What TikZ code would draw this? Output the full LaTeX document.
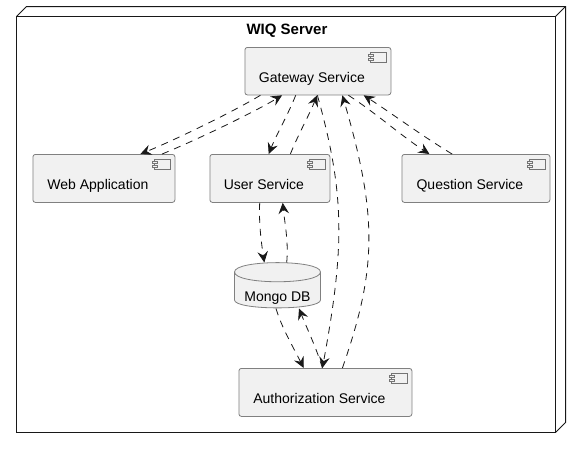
\documentclass[tikz,border=0pt]{standalone}
\usepackage{fontspec}
\setmainfont{Liberation Sans}
\usetikzlibrary{arrows.meta,calc}
\definecolor{boxfill}{HTML}{F1F1F1}
\definecolor{ink}{HTML}{181818}
\tikzset{
  x=1pt,y=-1pt,
  comp/.style={draw=ink!55!white,fill=boxfill,rounded corners=2.5pt,line width=0.8pt,inner sep=0pt},
  lab/.style={font=\fontsize{14}{16}\selectfont,text=black,inner sep=0pt,anchor=base},
  link/.style={draw=ink,line width=0.8pt,dash pattern=on 7pt off 6pt,-{Stealth[length=11pt,width=10.5pt,inset=4pt]}},
  wall/.style={draw=ink,line width=1pt},
  icon/.style={draw=ink!60!white,line width=0.7pt,fill=boxfill},
}
\newcommand{\compnode}[6]{% name,x1,y1,x2,y2,label
  \node[comp,minimum width=#4pt-#2pt,minimum height=#5pt-#3pt,anchor=north west] (#1) at (#2,#3) {};
  \node[lab] (#1text) at ($(#1.south)+(-6,-13)$) {#6};
  \draw[icon] ($(#1.north east)+(-21,5)$) rectangle ($(#1.north east)+(-4.5,15.5)$);
  \draw[icon] ($(#1.north east)+(-23,7.5)$) rectangle ($(#1.north east)+(-18,9.5)$);
  \draw[icon] ($(#1.north east)+(-23,11)$) rectangle ($(#1.north east)+(-18,13)$);
}
\begin{document}
\begin{tikzpicture}
\useasboundingbox (0,0) rectangle (581,448);
\fill[white] (0,0) rectangle (581,448);
% server box
\coordinate (srvA) at (16.5,16.5);
\coordinate (srvB) at (555.5,432.5);
\draw[wall] (srvA) rectangle (srvB);
\draw[wall] (srvA) -- (26.5,6.5) -- (565.5,6.5) -- (565.5,422.5) -- (srvB);
\draw[wall] (555.5,16.5) -- (565.5,6.5);
\node[lab,font=\fontsize{15}{17}\selectfont\bfseries] (title) at (287,34) {WIQ Server};
\compnode{gw}{244.5}{47}{390.5}{94.5}{Gateway Service}
\compnode{web}{32.5}{154}{174.5}{202}{Web Application}
\compnode{user}{209.5}{154}{329.5}{202}{User Service}
\compnode{q}{401.5}{154}{549.5}{202}{Question Service}
\compnode{auth}{238.5}{368}{411.5}{416}{Authorization Service}
% database
\path[draw=ink!55!white,fill=boxfill,line width=0.8pt]
  (234.5,272) .. controls (234.5,259.5) and (320.5,259.5) .. (320.5,272)
  -- (320.5,300) .. controls (320.5,310.5) and (234.5,310.5) .. (234.5,300) -- cycle;
\draw[draw=ink!55!white,line width=0.8pt] (234.5,272) .. controls (234.5,285) and (320.5,285) .. (320.5,272);
\node[lab] (db) at (277.5,301) {Mongo DB};
\coordinate (dbT) at (277.5,262.5);
\coordinate (dbB) at (277.5,308.5);
% connectors
\draw[link] ([xshift=-57.5pt]gw.south) .. controls +(-30,18) and +(32,-13) .. ([xshift=36.5pt]web.north);
\draw[link] ([xshift=58.2pt]web.north) .. controls +(32,-13) and +(-30,18) .. ([xshift=-35.8pt]gw.south);
\draw[link] ([xshift=-22.2pt]gw.south) .. controls +(-8,20) and +(8,-20) .. ([xshift=-1.2pt]user.north);
\draw[link] ([xshift=20.5pt]user.north) .. controls +(8,-20) and +(-8,20) .. ([xshift=-0.8pt]gw.south);
\draw[link] ([xshift=30.5pt]gw.south) .. controls +(28,18) and +(-28,-18) .. ([xshift=-46.5pt]q.north);
\draw[link] ([xshift=-23.8pt]q.north) .. controls +(-30,-18) and +(28,18) .. ([xshift=45.8pt]gw.south);
\draw[link] ([xshift=17pt]auth.north) .. controls +(35,-100) and +(35,120) .. ([xshift=24.5pt]gw.south);
\draw[link] ([xshift=-0.5pt]gw.south) .. controls +(28,100) and +(22,-120) .. ([xshift=-3pt]auth.north);
\draw[link] ([xshift=-10.2pt]user.south) .. controls +(-1,20) and +(-3,-20) .. ([xshift=-13.2pt]dbT);
\draw[link] ([xshift=9.2pt]dbT) .. controls +(2,-20) and +(2,20) .. ([xshift=12.8pt]user.south);
\draw[link] ([xshift=-1.5pt]dbB) .. controls +(6,20) and +(-10,-20) .. ([xshift=-21.7pt]auth.north);
\draw[link] ([xshift=-3pt]auth.north) .. controls +(-6,-20) and +(8,20) .. ([xshift=21.5pt]dbB);
\end{tikzpicture}
\end{document}
